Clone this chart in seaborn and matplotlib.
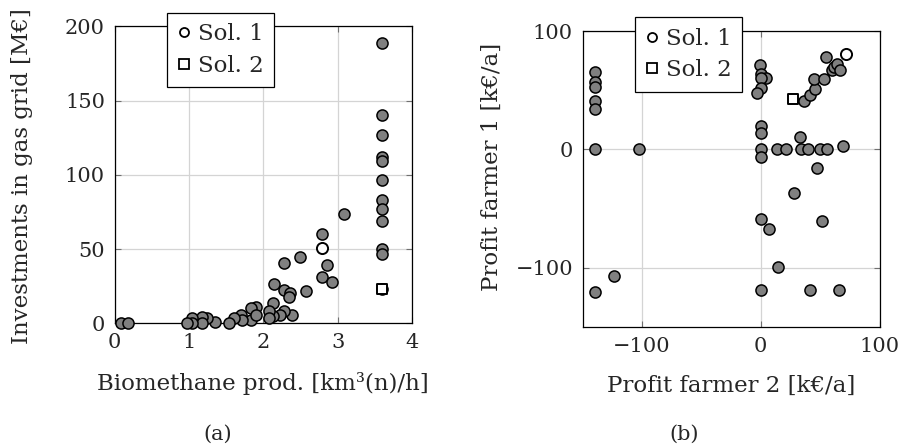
import matplotlib
matplotlib.use("Agg")
import matplotlib.pyplot as plt
from matplotlib.lines import Line2D
import seaborn as sns
import pandas as pd

# (a) biomethane production vs. grid investment
prod_all = [3.6, 3.6, 3.6, 3.6, 3.6, 3.6, 3.6, 3.6, 3.6, 3.6, 3.6, 3.6,
            3.08, 2.79, 2.86, 2.79, 2.93, 2.49, 2.28, 2.57, 2.14, 2.28,
            2.36, 2.34, 2.13, 2.38, 2.28, 2.22, 2.13, 2.07, 2.07, 1.90,
            1.83, 1.83, 1.90, 1.70, 1.71, 1.61, 1.54, 1.35, 1.24, 1.18,
            1.17, 1.04, 1.04, 0.97, 0.085, 0.175]
invest_all = [189, 140.6, 126.7, 112, 109, 96.4, 83, 77, 69, 50, 47, 23,
              73.5, 60, 39, 31.4, 27.6, 44.8, 40.4, 21.9, 26.5, 22.4,
              20.2, 17.9, 13.9, 5.6, 8.6, 5.6, 5.0, 8.3, 3.3, 10.8,
              10.0, 2.5, 5.6, 5.6, 2.0, 3.3, 0.4, 1.0, 3.3, 4.5,
              0.4, 3.3, 0.4, 0.4, 0.4, 0.4]
prod_sol1, invest_sol1 = [2.79], [51]
prod_sol2, invest_sol2 = [3.6], [23]

# (b) profit of farmer 2 vs. profit of farmer 1
profit2_all = [-140, -140, -140, -140, -140, -140, -140, -124, -103,
               -0.5, 0, 4, 0, 0.5, -3, 0, 0, 0, 0, 0, 0,
               7.3, 14.8, 14, 21, 33, 28.3, 34, 40, 50, 55.5, 69, 47,
               51.3, 41.4, 65.8,
               36.4, 41.5, 45.7, 45, 53.5, 54.8, 59.7, 62, 64.4, 66.4]
profit1_all = [65, 57, 53, 41, 34, 0, -120, -107, 0,
               71, 64, 60, 60, 52, 48, 20, 13.5, 0, -6, -58.6, -119,
               -67, -99.5, 0, 0, 10.6, -37, 0, 0, 0, 0, 3, -16,
               -60.3, -119, -119,
               40.6, 46, 51.3, 59.7, 59.7, 78.4, 66.7, 69.5, 72.3, 67.2]
profit2_sol1, profit1_sol1 = [72], [81]
profit2_sol2, profit1_sol2 = [27], [43]

x_ticks_a = [0, 1, 2, 3, 4]
y_ticks_a = [0, 50, 100, 150, 200]
ticks_b = [-100, 0, 100]

sns.set_style("white")
plt.rcParams["font.family"] = ["DejaVu Serif"]
plt.rcParams["axes.unicode_minus"] = True

FILL = "#808080"
GRID = "#d4d4d4"
TICK_FS = 15
LABEL_FS = 16.5

fig = plt.figure(figsize=(9.03, 4.48), dpi=100)
ax_a = fig.add_axes([0.127, 0.2783, 0.3292, 0.6629])
ax_b = fig.add_axes([0.6453, 0.270, 0.3287, 0.6607])


def draw_panel(ax, x_all, y_all, x1, y1, x2, y2):
    df = pd.DataFrame({"x": x_all, "y": y_all})
    sns.scatterplot(data=df, x="x", y="y", ax=ax, color=FILL,
                    edgecolor="black", linewidth=1.1, s=64,
                    clip_on=False, zorder=3, legend=False)
    sns.scatterplot(x=x1, y=y1, ax=ax, color="white", edgecolor="black",
                    linewidth=1.4, s=64, marker="o", clip_on=False,
                    zorder=4, legend=False)
    sns.scatterplot(x=x2, y=y2, ax=ax, color="white", edgecolor="black",
                    linewidth=1.4, s=60, marker="s", clip_on=False,
                    zorder=4, legend=False)
    ax.grid(True, color=GRID, linewidth=0.9, zorder=0)
    ax.set_axisbelow(True)
    for sp in ax.spines.values():
        sp.set_color("black")
        sp.set_linewidth(0.9)
        sp.set_visible(True)
    ax.tick_params(direction="in", length=4, width=0.8, color="#707070",
                   top=True, right=True, bottom=True, left=True,
                   labelsize=TICK_FS, pad=7)
    handles = [
        Line2D([], [], linestyle="none", marker="o", markersize=6.5,
               markerfacecolor="white", markeredgecolor="black",
               markeredgewidth=1.3, label="Sol. 1"),
        Line2D([], [], linestyle="none", marker="s", markersize=6.5,
               markerfacecolor="white", markeredgecolor="black",
               markeredgewidth=1.3, label="Sol. 2"),
    ]
    leg = ax.legend(handles=handles, loc="upper left",
                    bbox_to_anchor=(0.177, 1.046), frameon=True,
                    fancybox=False, edgecolor="black", framealpha=1,
                    fontsize=LABEL_FS, borderpad=0.45, handlelength=0.55,
                    handletextpad=0.35, labelspacing=0.42, borderaxespad=0)
    leg.get_frame().set_linewidth(0.9)
    leg.set_zorder(10)


draw_panel(ax_a, prod_all, invest_all, prod_sol1, invest_sol1,
           prod_sol2, invest_sol2)
ax_a.set_xlim(0, 4)
ax_a.set_ylim(0, 200)
ax_a.set_xticks(x_ticks_a)
ax_a.set_yticks(y_ticks_a)
ax_a.set_xlabel("Biomethane prod. [km³(n)/h]", fontsize=LABEL_FS)
ax_a.set_ylabel("Investments in gas grid [M€]", fontsize=LABEL_FS)
ax_a.xaxis.set_label_coords(0.5, -0.165)
ax_a.yaxis.set_label_coords(-0.274, 0.495)

draw_panel(ax_b, profit2_all, profit1_all, profit2_sol1, profit1_sol1,
           profit2_sol2, profit1_sol2)
ax_b.set_xlim(-150, 100)
ax_b.set_ylim(-150, 100)
ax_b.set_xticks(ticks_b)
ax_b.set_yticks(ticks_b)
ax_b.set_xlabel("Profit farmer 2 [k€/a]", fontsize=LABEL_FS)
ax_b.set_ylabel("Profit farmer 1 [k€/a]", fontsize=LABEL_FS)
ax_b.xaxis.set_label_coords(0.5, -0.162)
ax_b.yaxis.set_label_coords(-0.2675, 0.54)

fig.text(218 / 903, 1 - 434 / 448, "(a)", ha="center", va="center",
         fontsize=15)
fig.text(684 / 903, 1 - 434 / 448, "(b)", ha="center", va="center",
         fontsize=15)

fig.savefig("out.png", dpi=100)
